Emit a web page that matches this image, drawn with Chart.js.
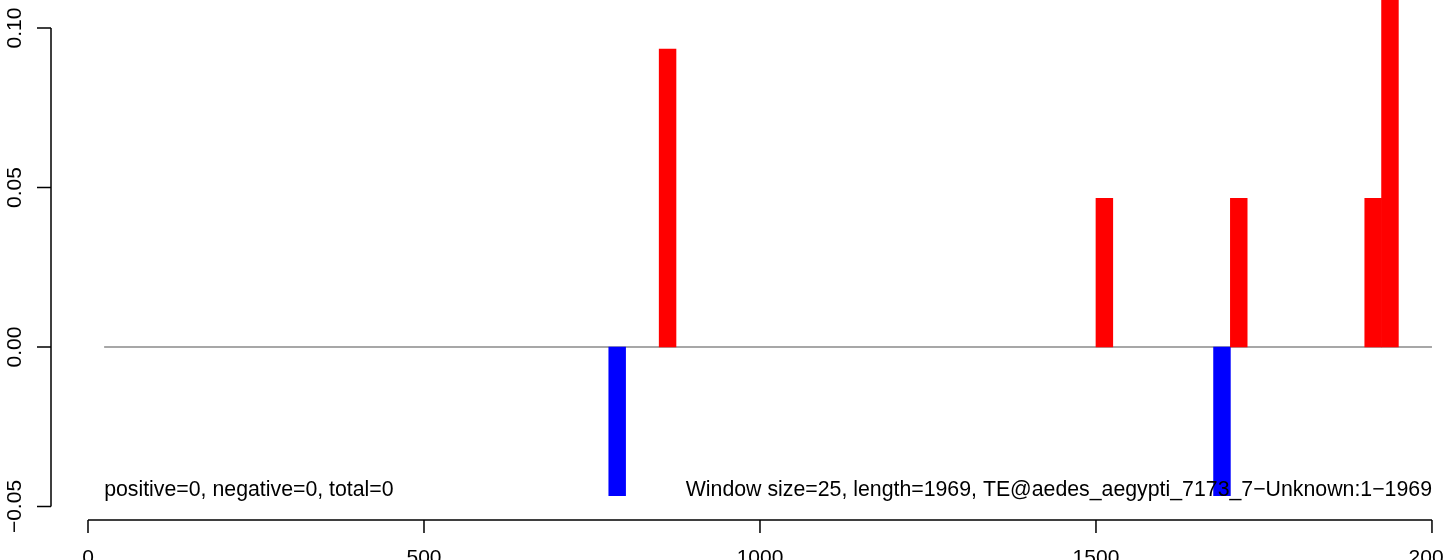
<!DOCTYPE html>
<html>
<head>
<meta charset="utf-8">
<script src="https://cdn.jsdelivr.net/npm/chart.js@4/dist/chart.umd.min.js"></script>
<style>
  html, body { margin: 0; padding: 0; background: #fff; }
  #wrap { width: 1444px; height: 560px; }
</style>
</head>
<body>
<div id="wrap"><canvas id="chart_1" width="1444" height="560"></canvas></div>
<script>
const windowSize = 25;
const seqLength = 1969;
// window start positions and their scores
const windowStart = [775, 850, 1500, 1675, 1700, 1900, 1925];
const windowScore = [-0.0466, 0.0934, 0.0466, -0.0466, 0.0466, 0.0466, 0.14];
const xTicks = [0, 500, 1000, 1500, 2000];
const yTicks = [-0.05, 0, 0.05, 0.1];
const yTickLabels = ['\u22120.05', '0.00', '0.05', '0.10'];
const leftText = 'positive=0, negative=0, total=0';
const rightText = 'Window size=25, length=1969, TE@aedes_aegypti_7173_7\u2212Unknown:1\u22121969';

const font = '21px "Liberation Sans", Arial, sans-serif';
const noteFont = '21.3px "Liberation Sans", Arial, sans-serif';

const barData = windowStart.map(function (s, i) {
  return { x: s + windowSize / 2, y: windowScore[i] };
});
const barColors = windowScore.map(function (v) {
  return v < 0 ? '#0000ff' : '#ff0000';
});

const rAxes = {
  id: 'rAxes',
  afterDraw: function (chart) {
    const ctx = chart.ctx;
    const xs = chart.scales.x;
    const ys = chart.scales.y;
    const area = chart.chartArea;
    ctx.save();
    ctx.strokeStyle = '#000';
    ctx.fillStyle = '#000';
    ctx.lineWidth = 1.5;
    ctx.font = font;

    // y axis
    ctx.beginPath();
    ctx.moveTo(area.left, ys.getPixelForValue(yTicks[0]));
    ctx.lineTo(area.left, ys.getPixelForValue(yTicks[yTicks.length - 1]));
    yTicks.forEach(function (t) {
      const py = ys.getPixelForValue(t);
      ctx.moveTo(area.left, py);
      ctx.lineTo(area.left - 14, py);
    });
    ctx.stroke();
    yTicks.forEach(function (t, i) {
      const py = ys.getPixelForValue(t);
      ctx.save();
      ctx.translate(21, py);
      ctx.rotate(-Math.PI / 2);
      ctx.textAlign = 'center';
      ctx.textBaseline = 'alphabetic';
      ctx.fillText(yTickLabels[i], 0, 0);
      ctx.restore();
    });

    // x axis
    ctx.beginPath();
    ctx.moveTo(xs.getPixelForValue(xTicks[0]), area.bottom);
    ctx.lineTo(xs.getPixelForValue(xTicks[xTicks.length - 1]), area.bottom);
    xTicks.forEach(function (t) {
      const px = xs.getPixelForValue(t);
      ctx.moveTo(px, area.bottom);
      ctx.lineTo(px, area.bottom + 13);
    });
    ctx.stroke();
    ctx.textAlign = 'center';
    ctx.textBaseline = 'alphabetic';
    xTicks.forEach(function (t) {
      ctx.fillText(String(t), xs.getPixelForValue(t), area.bottom + 44);
    });

    // annotations
    const minScore = Math.min.apply(null, windowScore);
    const by = ys.getPixelForValue(minScore);
    ctx.font = noteFont;
    ctx.textAlign = 'left';
    ctx.fillText(leftText, xs.getPixelForValue(24), by);
    ctx.textAlign = 'right';
    ctx.fillText(rightText, xs.getPixelForValue(2000), by);
    ctx.restore();
  },
};

new Chart('chart_1', {
  type: 'bar',
  data: {
    datasets: [
      {
        type: 'line',
        data: [{ x: 24, y: 0 }, { x: 2000, y: 0 }],
        borderColor: '#8a8a8a',
        borderWidth: 1.3,
        pointRadius: 0,
        order: 2,
      },
      {
        type: 'bar',
        data: barData,
        backgroundColor: barColors,
        borderWidth: 0,
        barPercentage: 1,
        categoryPercentage: 1,
        order: 1,
      },
    ],
  },
  options: {
    responsive: false,
    animation: false,
    layout: { padding: { left: 51, right: 0, top: 0, bottom: 40 } },
    plugins: { legend: { display: false }, tooltip: { enabled: false } },
    scales: {
      x: { type: 'linear', min: -55.06, max: 2017.9, offset: false, display: false },
      y: { type: 'linear', min: -0.05423, max: 0.10878, display: false },
    },
  },
  plugins: [rAxes],
});
</script>
</body>
</html>
